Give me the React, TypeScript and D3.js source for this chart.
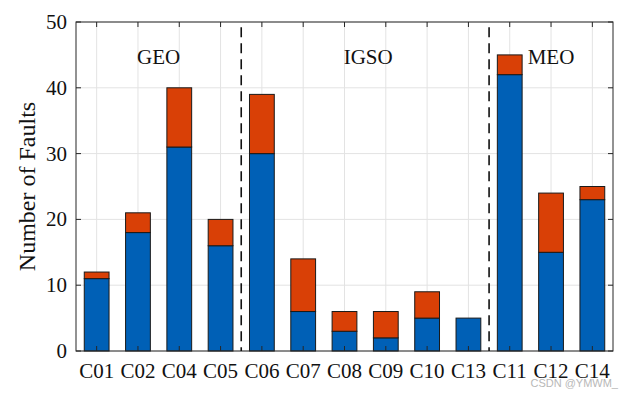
import React, { useEffect, useRef } from 'react';
import * as d3 from 'd3';

const satellites = ['C01', 'C02', 'C04', 'C05', 'C06', 'C07', 'C08', 'C09', 'C10', 'C13', 'C11', 'C12', 'C14'];
const lowerPart = [11, 18, 31, 16, 30, 6, 3, 2, 5, 5, 42, 15, 23];
const upperPart = [1, 3, 9, 4, 9, 8, 3, 4, 4, 0, 3, 9, 2];
const yTicks = [0, 10, 20, 30, 40, 50];
// group name, first and last satellite of the group
const groups: Array<[string, string, string]> = [
  ['GEO', 'C01', 'C05'],
  ['IGSO', 'C06', 'C13'],
  ['MEO', 'C11', 'C14'],
];

const App: React.FC = () => {
  const svgRef = useRef<SVGSVGElement>(null);

  useEffect(() => {
    const svg = d3.select(svgRef.current);
    svg.selectAll('*').remove();

    const width = 634;
    const height = 396;
    const margin = { top: 22, right: 21, bottom: 45, left: 76 };
    const font = '"Liberation Serif", "Times New Roman", serif';
    const blue = '#0060B6';
    const orange = '#D94006';

    const x = d3.scaleBand<string>()
      .domain(satellites)
      .range([margin.left, width - margin.right])
      .paddingInner(0.4)
      .paddingOuter(0.2);
    const step = x.step();
    const center = (s: string) => (x(s) ?? 0) + x.bandwidth() / 2;

    const y = d3.scaleLinear()
      .domain([0, 50])
      .range([height - margin.bottom, margin.top]);

    const x0 = margin.left;
    const x1 = width - margin.right;
    const y0 = height - margin.bottom;
    const y1 = margin.top;

    // grid
    const grid = svg.append('g').attr('stroke', '#e3e3e3').attr('stroke-width', 1);
    grid.selectAll('line.v')
      .data(satellites)
      .join('line')
      .attr('x1', d => center(d)).attr('x2', d => center(d))
      .attr('y1', y0).attr('y2', y1);
    grid.selectAll('line.h')
      .data(yTicks)
      .join('line')
      .attr('x1', x0).attr('x2', x1)
      .attr('y1', d => y(d)).attr('y2', d => y(d));

    // stacked bars
    const stacked = satellites.map((s, i) => ({ s, a: lowerPart[i], b: upperPart[i] }));
    const bars = svg.append('g').attr('stroke', '#1a1a1a').attr('stroke-width', 1);
    bars.selectAll('rect.low')
      .data(stacked)
      .join('rect')
      .attr('x', d => x(d.s) ?? 0)
      .attr('width', x.bandwidth())
      .attr('y', d => y(d.a))
      .attr('height', d => y(0) - y(d.a))
      .attr('fill', blue);
    bars.selectAll('rect.up')
      .data(stacked.filter(d => d.b > 0))
      .join('rect')
      .attr('x', d => x(d.s) ?? 0)
      .attr('width', x.bandwidth())
      .attr('y', d => y(d.a + d.b))
      .attr('height', d => y(d.a) - y(d.a + d.b))
      .attr('fill', orange);

    // axes box
    const axisColor = '#262626';
    svg.append('rect')
      .attr('x', x0).attr('y', y1)
      .attr('width', x1 - x0).attr('height', y0 - y1)
      .attr('fill', 'none').attr('stroke', axisColor).attr('stroke-width', 1);

    const ticks = svg.append('g').attr('stroke', axisColor).attr('stroke-width', 1);
    const tl = 5;
    satellites.forEach(s => {
      const cx = center(s);
      ticks.append('line').attr('x1', cx).attr('x2', cx).attr('y1', y0).attr('y2', y0 - tl);
      ticks.append('line').attr('x1', cx).attr('x2', cx).attr('y1', y1).attr('y2', y1 + tl);
    });
    yTicks.forEach(t => {
      ticks.append('line').attr('x1', x0).attr('x2', x0 + tl).attr('y1', y(t)).attr('y2', y(t));
      ticks.append('line').attr('x1', x1).attr('x2', x1 - tl).attr('y1', y(t)).attr('y2', y(t));
    });

    // tick labels
    svg.append('g')
      .selectAll('text')
      .data(satellites)
      .join('text')
      .attr('x', d => center(d))
      .attr('y', y0 + 27)
      .attr('text-anchor', 'middle')
      .attr('font-family', font)
      .attr('font-size', 21)
      .attr('fill', '#111')
      .text(d => d);

    svg.append('g')
      .selectAll('text')
      .data(yTicks)
      .join('text')
      .attr('x', x0 - 9)
      .attr('y', d => y(d) + 7)
      .attr('text-anchor', 'end')
      .attr('font-family', font)
      .attr('font-size', 21)
      .attr('fill', '#111')
      .text(d => d);

    // y label
    svg.append('text')
      .attr('transform', `translate(35,${(y0 + y1) / 2}) rotate(-90)`)
      .attr('text-anchor', 'middle')
      .attr('font-family', font)
      .attr('font-size', 24)
      .attr('fill', '#111')
      .text('Number of Faults');

    // group separators and names
    groups.forEach(([name, first, last], gi) => {
      const left = (x(first) ?? 0) - (step - x.bandwidth()) / 2;
      const right = (x(last) ?? 0) + x.bandwidth() + (step - x.bandwidth()) / 2;
      svg.append('text')
        .attr('x', (left + right) / 2 + (gi === 1 ? 3 : 0))
        .attr('y', y(43.6))
        .attr('text-anchor', 'middle')
        .attr('font-family', font)
        .attr('font-size', 21)
        .attr('fill', '#111')
        .text(name);
      if (gi > 0) {
        svg.append('line')
          .attr('x1', left).attr('x2', left)
          .attr('y1', y(49.2)).attr('y2', y0)
          .attr('stroke', '#111')
          .attr('stroke-width', 1.6)
          .attr('stroke-dasharray', '10,6');
      }
    });

    // watermark
    svg.append('text')
      .attr('x', width - 16)
      .attr('y', height - 9)
      .attr('text-anchor', 'end')
      .attr('font-family', 'Arial, "Liberation Sans", sans-serif')
      .attr('font-size', 11)
      .attr('fill', '#b8b8b8')
      .text('CSDN @YMWM_');
  }, []);

  return (
    <div style={{ position: 'absolute', left: 0, top: 0 }}>
      <svg ref={svgRef} width={634} height={396} style={{ display: 'block', background: '#fff' }} />
    </div>
  );
};

export default App;
